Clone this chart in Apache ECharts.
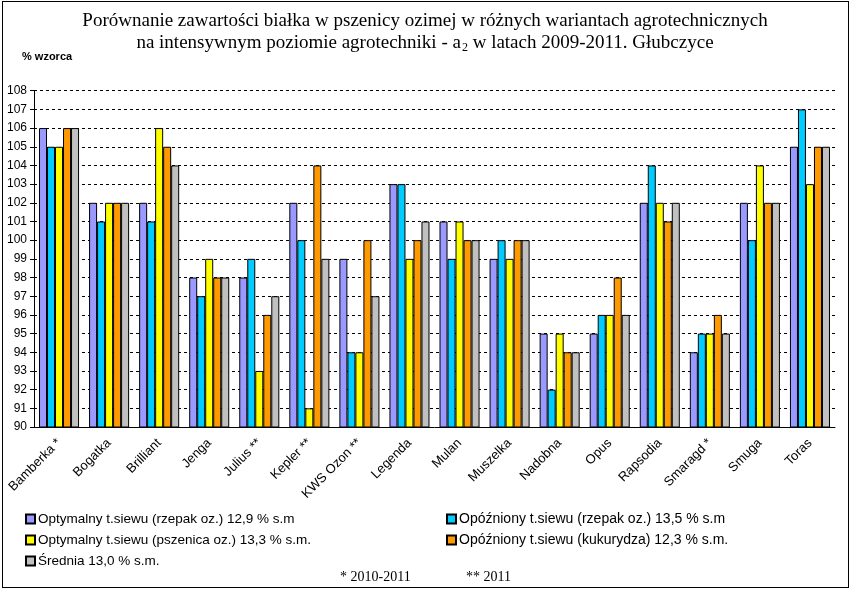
<!DOCTYPE html>
<html><head><meta charset="utf-8">
<script src="https://cdn.jsdelivr.net/npm/echarts@6/dist/echarts.min.js"></script>
<style>html,body{margin:0;padding:0;background:#fff}#c{width:850px;height:589px}
#frame{position:absolute;left:2px;top:1px;width:845px;height:585px;border:1px solid #000;pointer-events:none}</style>
</head><body><div id="c"></div><div id="frame"></div>
<script>
const categories = ['Bamberka *','Bogatka','Brilliant','Jenga','Julius **','Kepler **','KWS Ozon **','Legenda','Mulan','Muszelka','Nadobna','Opus','Rapsodia','Smaragd *','Smuga','Toras'];
const seriesNames = ['Optymalny t.siewu (rzepak oz.) 12,9 % s.m','Opóźniony t.siewu (rzepak oz.) 13,5 % s.m','Optymalny t.siewu (pszenica oz.) 13,3 % s.m.','Opóźniony t.siewu (kukurydza) 12,3 % s.m.','Średnia 13,0 % s.m.'];
const optRzepak   = [106,102,102,98,98,102,99,103,101,99,95,95,102,94,102,105];
const opozRzepak  = [105,101,101,97,99,100,94,103,99,100,92,96,104,95,100,107];
const optPszenica = [105,102,106,99,93,91,94,99,101,99,95,96,102,95,104,103];
const opozKukur   = [106,102,105,98,96,104,100,100,100,100,94,98,101,96,102,105];
const srednia     = [106,102,104,98,97,99,97,101,100,100,94,96,102,95,102,105];
const yTicks = {min:90, max:108, interval:1};
const colors = ['#9999FF','#00CCFF','#FFFF00','#FF9900','#C0C0C0'];
const values = [optRzepak, opozRzepak, optPszenica, opozKukur, srednia];

const chart = echarts.init(document.getElementById('c'));
chart.setOption({
  animation:false,
  backgroundColor:'#fff',
  title:{
    text:'Porównanie zawartości białka w pszenicy ozimej w różnych wariantach agrotechnicznych\n{n|na intensywnym poziomie agrotechniki - a}{s|2}{n| w latach 2009-2011. Głubczyce}',
    left:'center', top:5,
    textStyle:{fontFamily:'Liberation Serif', fontSize:19, fontWeight:'normal', color:'#000', lineHeight:22,
      rich:{n:{fontFamily:'Liberation Serif', fontSize:19, color:'#000', lineHeight:22},
            s:{fontFamily:'Liberation Serif', fontSize:12, color:'#000', padding:[9,0,0,1], lineHeight:22}}}
  },
  graphic:[
    {type:'text', left:22, top:51, style:{text:'% wzorca', font:'bold 11px Liberation Sans', fill:'#000'}},
    {type:'text', left:340, top:570, style:{text:'* 2010-2011', font:'14px Liberation Serif', fill:'#000'}},
    {type:'text', left:466, top:570, style:{text:'** 2011', font:'14px Liberation Serif', fill:'#000'}}
  ],
  legend:[
    {data:[seriesNames[0],seriesNames[2],seriesNames[4]], orient:'vertical', left:20, top:507, itemGap:7,
     itemWidth:9, itemHeight:9, icon:'rect', textStyle:{fontFamily:'Liberation Sans', fontSize:13.5, color:'#000', padding:[0,0,0,-2]}},
    {data:[seriesNames[1],seriesNames[3]], orient:'vertical', left:441, top:507, itemGap:7,
     itemWidth:9, itemHeight:9, icon:'rect', textStyle:{fontFamily:'Liberation Sans', fontSize:14, color:'#000', padding:[0,0,0,-2]}}
  ],
  grid:{left:34, right:15, top:90.7, bottom:162, containLabel:false},
  xAxis:{type:'category', data:categories,
    axisLine:{show:true, lineStyle:{color:'#000', width:1}}, axisTick:{show:false},
    axisLabel:{interval:0, rotate:45, margin:14, fontFamily:'Liberation Sans', fontSize:13, color:'#000'}},
  yAxis:{type:'value', min:yTicks.min, max:yTicks.max, interval:yTicks.interval,
    axisLine:{show:true, lineStyle:{color:'#000', width:1}},
    axisTick:{show:true, length:4, lineStyle:{color:'#000'}},
    axisLabel:{margin:7, fontFamily:'Liberation Sans', fontSize:12, color:'#000'},
    splitLine:{show:true, lineStyle:{color:'#000', type:[3,3], width:1}}},
  series: values.map((v,i)=>({
    name:seriesNames[i], type:'bar', data:v, barGap:'0%', barCategoryGap:'20%',
    itemStyle:{color:colors[i], borderColor:'#000', borderWidth:1}
  }))
});
</script></body></html>
